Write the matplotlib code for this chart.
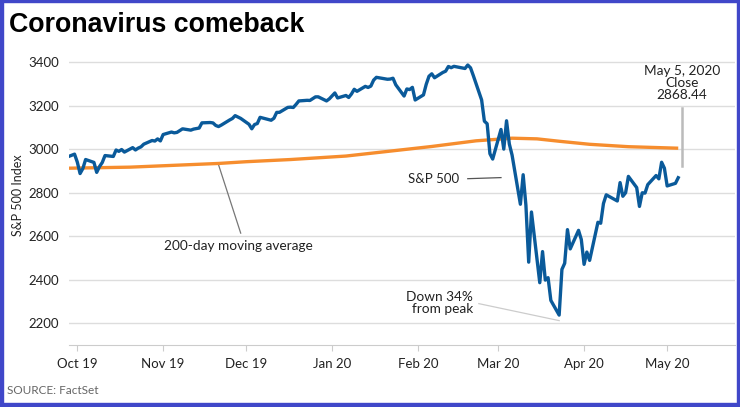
import numpy as np
import pandas as pd
from matplotlib import pyplot as plt
from matplotlib.patches import Rectangle

plt.rcParams['font.family'] = ['Lato', 'DejaVu Sans']
plt.rcParams['font.size'] = 9.5

# S&P 500 daily close, Sep 27 2019 - May 5 2020
sp_dates = pd.to_datetime([
    '2019-09-27', '2019-09-30', '2019-10-01', '2019-10-02', '2019-10-03', '2019-10-04', '2019-10-07',
    '2019-10-08', '2019-10-09', '2019-10-10', '2019-10-11', '2019-10-14', '2019-10-15', '2019-10-16',
    '2019-10-17', '2019-10-18', '2019-10-21', '2019-10-22', '2019-10-23', '2019-10-24', '2019-10-25',
    '2019-10-28', '2019-10-29', '2019-10-30', '2019-10-31', '2019-11-01', '2019-11-04', '2019-11-05',
    '2019-11-06', '2019-11-07', '2019-11-08', '2019-11-11', '2019-11-12', '2019-11-13', '2019-11-14',
    '2019-11-15', '2019-11-18', '2019-11-19', '2019-11-20', '2019-11-21', '2019-11-22', '2019-11-25',
    '2019-11-26', '2019-11-27', '2019-11-29', '2019-12-02', '2019-12-03', '2019-12-04', '2019-12-05',
    '2019-12-06', '2019-12-09', '2019-12-10', '2019-12-11', '2019-12-12', '2019-12-13', '2019-12-16',
    '2019-12-17', '2019-12-18', '2019-12-19', '2019-12-20', '2019-12-23', '2019-12-24', '2019-12-26',
    '2019-12-27', '2019-12-30', '2019-12-31', '2020-01-02', '2020-01-03', '2020-01-06', '2020-01-07',
    '2020-01-08', '2020-01-09', '2020-01-10', '2020-01-13', '2020-01-14', '2020-01-15', '2020-01-16',
    '2020-01-17', '2020-01-21', '2020-01-22', '2020-01-23', '2020-01-24', '2020-01-27', '2020-01-28',
    '2020-01-29', '2020-01-30', '2020-01-31', '2020-02-03', '2020-02-04', '2020-02-05', '2020-02-06',
    '2020-02-07', '2020-02-10', '2020-02-11', '2020-02-12', '2020-02-13', '2020-02-14', '2020-02-18',
    '2020-02-19', '2020-02-20', '2020-02-21', '2020-02-24', '2020-02-25', '2020-02-26', '2020-02-27',
    '2020-02-28', '2020-03-02', '2020-03-03', '2020-03-04', '2020-03-05', '2020-03-06', '2020-03-09',
    '2020-03-10', '2020-03-11', '2020-03-12', '2020-03-13', '2020-03-16', '2020-03-17', '2020-03-18',
    '2020-03-19', '2020-03-20', '2020-03-23', '2020-03-24', '2020-03-25', '2020-03-26', '2020-03-27',
    '2020-03-30', '2020-03-31', '2020-04-01', '2020-04-02', '2020-04-03', '2020-04-06', '2020-04-07',
    '2020-04-08', '2020-04-09', '2020-04-13', '2020-04-14', '2020-04-15', '2020-04-16', '2020-04-17',
    '2020-04-20', '2020-04-21', '2020-04-22', '2020-04-23', '2020-04-24', '2020-04-27', '2020-04-28',
    '2020-04-29', '2020-04-30', '2020-05-01', '2020-05-04', '2020-05-05'])
sp_close = [
    2961.79, 2976.74, 2940.25, 2887.61, 2910.63, 2952.01, 2938.79,
    2893.06, 2919.40, 2938.13, 2970.27, 2966.15, 2995.68, 2989.69,
    2997.95, 2986.20, 3006.72, 2995.99, 3004.52, 3010.29, 3022.55,
    3039.42, 3036.89, 3046.77, 3037.56, 3066.91, 3078.27, 3074.62,
    3076.78, 3085.18, 3093.08, 3087.01, 3091.84, 3094.04, 3096.63,
    3120.46, 3122.03, 3120.18, 3108.46, 3103.54, 3110.29, 3133.64,
    3140.52, 3153.63, 3140.98, 3113.87, 3093.20, 3112.76, 3117.43,
    3145.91, 3135.96, 3132.52, 3141.63, 3168.57, 3168.80, 3191.45,
    3192.52, 3191.14, 3205.37, 3221.22, 3224.01, 3223.38, 3239.91,
    3240.02, 3221.29, 3230.78, 3257.85, 3234.85, 3246.28, 3237.18,
    3253.05, 3274.70, 3265.35, 3288.13, 3283.15, 3289.29, 3316.81,
    3329.62, 3320.79, 3321.75, 3325.54, 3295.47, 3243.63, 3276.24,
    3273.40, 3283.66, 3225.52, 3248.92, 3297.59, 3334.69, 3345.78,
    3327.71, 3352.09, 3357.75, 3379.45, 3373.94, 3380.16, 3370.29,
    3386.15, 3373.23, 3337.75, 3225.89, 3128.21, 3116.39, 2978.76,
    2954.22, 3090.23, 2999.90, 3130.12, 3023.94, 2972.37, 2746.56,
    2882.23, 2741.38, 2480.64, 2711.02, 2386.13, 2529.19, 2398.10,
    2409.39, 2304.92, 2237.40, 2447.33, 2475.56, 2630.07, 2541.47,
    2626.65, 2584.59, 2470.50, 2526.90, 2488.65, 2663.68, 2659.41,
    2749.98, 2789.82, 2761.63, 2846.06, 2783.36, 2799.55, 2874.56,
    2823.16, 2736.56, 2799.31, 2797.80, 2836.74, 2878.48, 2863.39,
    2939.51, 2912.43, 2830.71, 2842.74, 2868.44]

# 200-day moving average
ma_dates = pd.to_datetime(['2019-09-27', '2019-10-20', '2019-11-21', '2019-12-01', '2019-12-17',
                           '2020-01-06', '2020-01-18', '2020-02-06', '2020-02-22', '2020-03-06',
                           '2020-03-15', '2020-03-23', '2020-04-03', '2020-04-17', '2020-05-05'])
ma_values = [2912, 2917, 2934, 2942, 2952, 2968, 2985, 3012, 3038, 3050,
             3047, 3036, 3022, 3011, 3004]

tick_dates = pd.to_datetime(['2019-10-01', '2019-11-01', '2019-12-01', '2020-01-01',
                             '2020-02-01', '2020-03-01', '2020-04-01', '2020-05-01'])
tick_labels = ['Oct 19', 'Nov 19', 'Dec 19', 'Jan 20', 'Feb 20', 'Mar 20', 'Apr 20', 'May 20']
y_ticks = [2200, 2400, 2600, 2800, 3000, 3200, 3400]

blue = '#0a5a9a'
orange = '#f68d2e'
txt = '#222222'

fig = plt.figure(figsize=(7.4, 4.07), dpi=100)
ax = fig.add_axes([69/740, 1 - 345/407, (735 - 69)/740, (345 - 44.6)/407])

ax.plot(ma_dates, ma_values, color=orange, lw=2.4, solid_capstyle='butt', zorder=3)
ax.plot(sp_dates, sp_close, color=blue, lw=2.4, solid_joinstyle='round', zorder=4)

ax.set_xlim(pd.Timestamp('2019-09-28'), pd.Timestamp('2020-05-25 12:00'))
ax.set_ylim(2100, 3480)
ax.set_xticks(tick_dates)
ax.set_xticklabels(tick_labels)
ax.set_yticks(y_ticks)
ax.grid(axis='y', color='#dddddd', lw=1)
ax.set_axisbelow(True)
for s in ['top', 'right', 'left']:
    ax.spines[s].set_visible(False)
ax.spines['bottom'].set_color('#cccccc')
ax.tick_params(axis='x', length=4, color='#cccccc', labelcolor=txt, labelsize=9.5, pad=5)
ax.tick_params(axis='y', length=0, labelcolor=txt, labelsize=9.5, pad=7)
ax.set_ylabel('S&P 500 Index', fontsize=9, color=txt, labelpad=3)

# annotations
ax.annotate('May 5, 2020\nClose\n2868.44', xy=(pd.Timestamp('2020-05-06 10:00'), 3304),
            ha='center', va='center', color=txt, fontsize=9.8, linespacing=1.0)
ax.plot([pd.Timestamp('2020-05-06 10:00')] * 2, [3189, 2922], color='#bbbbbb', lw=1.8)

ax.text(pd.Timestamp('2020-02-16'), 2862, 'S&P 500', ha='right', va='center', color=txt, fontsize=9.5)
ax.plot([pd.Timestamp('2020-02-19'), pd.Timestamp('2020-03-02')], [2864, 2869], color='#555555', lw=0.9)

ax.text(pd.Timestamp('2019-11-28'), 2555, '200-day moving average', ha='center', va='center',
        color=txt, fontsize=9.8)
ax.plot([pd.Timestamp('2019-11-21'), pd.Timestamp('2019-11-29')], [2928, 2614], color='#777777', lw=0.9)

ax.text(pd.Timestamp('2020-02-21'), 2292, 'Down 34%\nfrom peak', ha='right', va='center',
        color=txt, fontsize=9.8, linespacing=1.0)
ax.plot([pd.Timestamp('2020-02-23'), pd.Timestamp('2020-03-23')], [2290, 2212], color='#cccccc', lw=0.9)

fig.text(9/740, 1 - 25/407, 'Coronavirus comeback', fontsize=19.3, fontweight='bold',
         family=['Liberation Sans', 'DejaVu Sans'], color='black', va='center', ha='left')
fig.text(7/740, 1 - 390/407, 'SOURCE: FactSet', fontsize=8.5, color='#666666', va='center', ha='left')

# blue frame
border = '#4047c9'
fig.patches.append(Rectangle((0, 0), 1, 4/407, transform=fig.transFigure, color=border, zorder=10))
fig.patches.append(Rectangle((0, 1 - 2/407), 1, 2/407, transform=fig.transFigure, color=border, zorder=10))
fig.patches.append(Rectangle((0, 0), 2.5/740, 1, transform=fig.transFigure, color=border, zorder=10))
fig.patches.append(Rectangle((1 - 3/740, 0), 3/740, 1, transform=fig.transFigure, color=border, zorder=10))

plt.savefig('out.png', dpi=100)
